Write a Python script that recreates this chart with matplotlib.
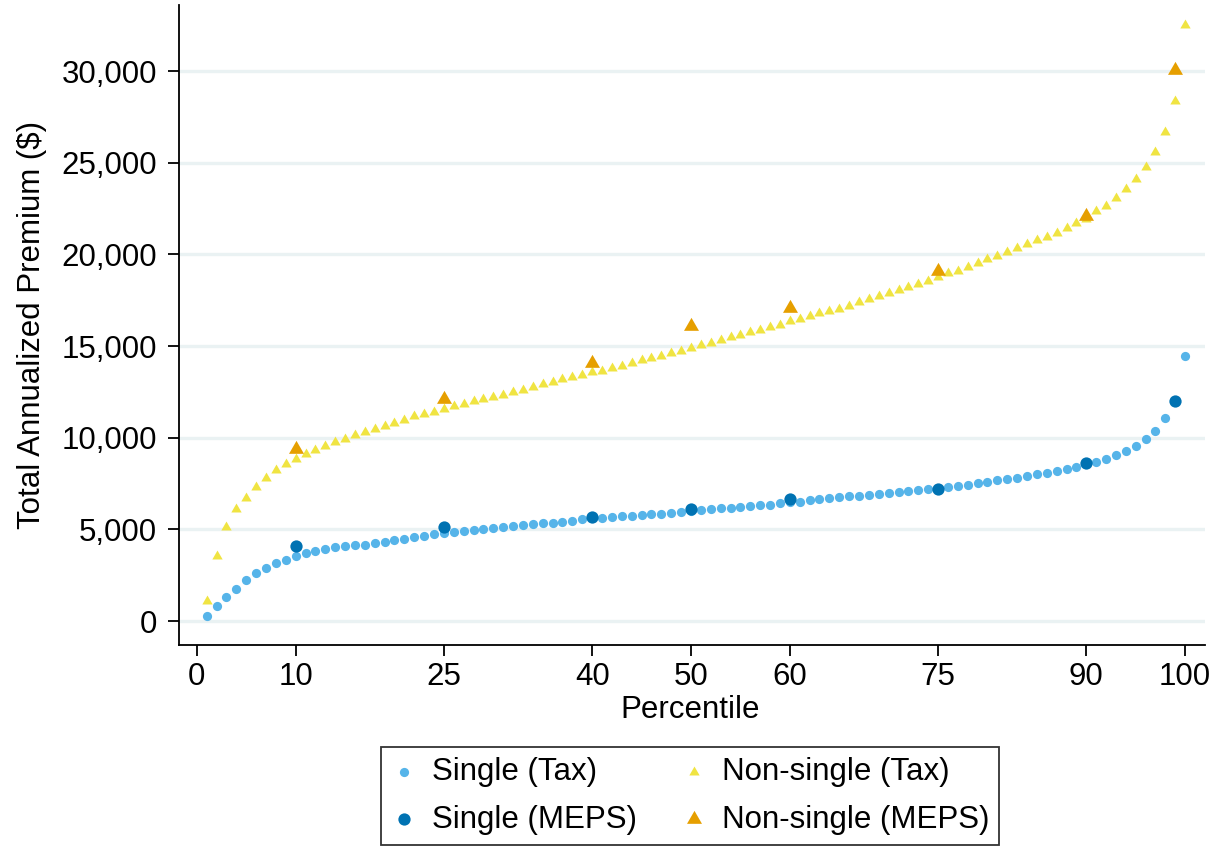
import matplotlib
matplotlib.use("Agg")
import matplotlib.pyplot as plt
import numpy as np

plt.rcParams['font.family'] = ['Liberation Sans', 'DejaVu Sans']

percentile = list(range(1, 101))

single_tax = [
    290, 820, 1290, 1780, 2240, 2600, 2910, 3150, 3350, 3550,
    3690, 3800, 3930, 4020, 4110, 4150, 4180, 4250, 4330, 4400,
    4490, 4580, 4650, 4730, 4800, 4840, 4910, 4950, 5000, 5070,
    5130, 5180, 5240, 5290, 5330, 5380, 5420, 5470, 5550, 5600,
    5640, 5690, 5710, 5740, 5780, 5820, 5850, 5890, 5950, 6000,
    6070, 6090, 6150, 6180, 6240, 6270, 6310, 6350, 6420, 6480,
    6510, 6600, 6670, 6710, 6750, 6800, 6820, 6890, 6950, 7000,
    7040, 7090, 7150, 7200, 7230, 7310, 7360, 7440, 7510, 7580,
    7680, 7750, 7820, 7910, 8020, 8090, 8170, 8280, 8400, 8550,
    8660, 8840, 9040, 9260, 9560, 9950, 10380, 11060, 12000, 14460,
]

nonsingle_tax = [
    1110, 3560, 5150, 6110, 6690, 7330, 7820, 8240, 8570, 8840,
    9110, 9330, 9560, 9770, 9950, 10130, 10330, 10490, 10650, 10820,
    10980, 11170, 11310, 11420, 11550, 11710, 11840, 12000, 12110, 12240,
    12360, 12490, 12620, 12780, 12910, 13040, 13190, 13330, 13440, 13570,
    13660, 13800, 13930, 14060, 14220, 14350, 14470, 14600, 14750, 14910,
    15060, 15180, 15330, 15480, 15600, 15750, 15880, 16040, 16170, 16350,
    16460, 16620, 16800, 16910, 17040, 17200, 17390, 17570, 17750, 17890,
    18060, 18240, 18400, 18550, 18750, 18970, 19110, 19330, 19530, 19750,
    19910, 20110, 20350, 20550, 20770, 20930, 21190, 21440, 21710, 21950,
    22360, 22630, 23070, 23570, 24120, 24760, 25580, 26670, 28390, 32500,
]

meps_pct = [10, 25, 40, 50, 60, 75, 90, 99]
single_meps = [4100, 5130, 5690, 6110, 6640, 7200, 8600, 11990]
nonsingle_meps = [9370, 12100, 14090, 16090, 17060, 19110, 22090, 30060]

x_ticks = [0, 10, 25, 40, 50, 60, 75, 90, 100]
y_ticks = [0, 5000, 10000, 15000, 20000, 25000, 30000]

fig = plt.figure(figsize=(12.22, 8.5), dpi=100)
ax = fig.add_axes([0.1465, 0.2412, 0.8395, 0.7528])

c_light_blue = '#56B4E9'
c_dark_blue = '#0072B2'
c_yellow = '#F0E442'
c_orange = '#E69F00'

tri = [(0, 1), (-0.866, -0.5), (0.866, -0.5), (0, 1)]

ax.scatter(percentile, single_tax, s=44, color=c_light_blue, marker='o',
           linewidths=0, label='Single (Tax)', zorder=3)
ax.scatter(percentile, nonsingle_tax, s=74, color=c_yellow, marker=tri,
           linewidths=0, label='Non-single (Tax)', zorder=3)
ax.scatter(meps_pct, single_meps, s=78, color=c_dark_blue, marker='o',
           linewidths=0, label='Single (MEPS)', zorder=4)
ax.scatter(meps_pct, nonsingle_meps, s=155, color=c_orange, marker=tri,
           linewidths=0, label='Non-single (MEPS)', zorder=4)

ax.set_xlim(-1.8, 102.0)
ax.set_ylim(-1300, 33600)
ax.set_xticks(x_ticks)
ax.set_yticks(y_ticks)
ax.set_yticklabels([f"{v:,}" for v in y_ticks])

for v in y_ticks:
    ax.axhline(v, color='#EAF2F3', lw=2.4, zorder=1)

for s in ['top', 'right']:
    ax.spines[s].set_visible(False)
for s in ['left', 'bottom']:
    ax.spines[s].set_linewidth(1.3)
    ax.spines[s].set_color('black')

FS = 22.5
ax.tick_params(axis='both', direction='out', length=8, width=1.3,
               labelsize=FS, colors='black')
ax.tick_params(axis='y', pad=8)
ax.tick_params(axis='x', pad=4)

ax.set_xlabel('Percentile', fontsize=FS)
ax.xaxis.set_label_coords(0.498, -0.078)
ax.set_ylabel('Total Annualized Premium ($)', fontsize=FS, labelpad=10)

handles, labels = ax.get_legend_handles_labels()
order = [0, 2, 1, 3]
leg = fig.legend([handles[i] for i in order], [labels[i] for i in order],
                 loc='center', bbox_to_anchor=(0.565, 0.0635), ncol=2,
                 frameon=True, fancybox=False, fontsize=FS,
                 handlelength=0.8, handletextpad=0.5, columnspacing=1.4,
                 labelspacing=0.55, borderpad=0.33, borderaxespad=0,
                 scatterpoints=1)
leg.get_frame().set_edgecolor('black')
leg.get_frame().set_linewidth(1.3)

fig.savefig('out.png', dpi=100, facecolor='white')
